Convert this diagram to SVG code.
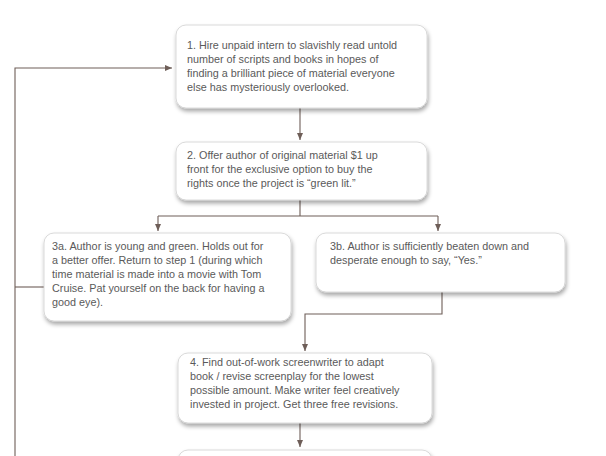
<svg xmlns="http://www.w3.org/2000/svg" width="606" height="456" viewBox="0 0 606 456">
<style>
.box{fill:#fff;stroke:#d0d0d0;stroke-width:0.8;filter:url(#sh)}
.t{font-family:"Liberation Sans",Arial,sans-serif;font-size:10.8px;fill:#5a5a5a}
.c{fill:none;stroke:#6e5e58;stroke-width:1.1}
</style>
<defs>
<filter id="sh" x="-10%" y="-10%" width="125%" height="135%"><feDropShadow dx="1" dy="3" stdDeviation="2" flood-color="#000" flood-opacity="0.35"/></filter>
<marker id="a" markerWidth="8" markerHeight="8" refX="7" refY="4" orient="auto" markerUnits="userSpaceOnUse"><path d="M0,1 L7,4 L0,7 z" fill="#6e5e58"/></marker>
</defs>
<g id="connectors">
<path class="c" d="M300,108 V140" marker-end="url(#a)"/>
<path class="c" d="M300,200 V216 M158,216 H438"/>
<path class="c" d="M158,216 V231" marker-end="url(#a)"/>
<path class="c" d="M438,216 V231" marker-end="url(#a)"/>
<path class="c" d="M442,292 V314 H305 V351" marker-end="url(#a)"/>
<path class="c" d="M300,423 V447" marker-end="url(#a)"/>
<path class="c" d="M44,287 H15"/>
<path class="c" d="M15,456 V68 H172" marker-end="url(#a)"/>
</g>
<g id="n1"><rect class="box" x="176" y="25" width="251" height="83" rx="10"/>
<text class="t" x="187"><tspan x="187" y="49">1. Hire unpaid intern to slavishly read untold</tspan><tspan x="187" y="63">number of scripts and books in hopes of</tspan><tspan x="187" y="77">finding a brilliant piece of material everyone</tspan><tspan x="187" y="91">else has mysteriously overlooked.</tspan></text></g>
<g id="n2"><rect class="box" x="176" y="142" width="251" height="58" rx="10"/>
<text class="t"><tspan x="187" y="159">2. Offer author of original material $1 up</tspan><tspan x="187" y="173">front for the exclusive option to buy the</tspan><tspan x="187" y="187">rights once the project is “green lit.”</tspan></text></g>
<g id="n3a"><rect class="box" x="44" y="233" width="247" height="88" rx="10"/>
<text class="t"><tspan x="52" y="250">3a. Author is young and green. Holds out for</tspan><tspan x="52" y="264">a better offer. Return to step 1 (during which</tspan><tspan x="52" y="278">time material is made into a movie with Tom</tspan><tspan x="52" y="292">Cruise. Pat yourself on the back for having a</tspan><tspan x="52" y="306">good eye).</tspan></text></g>
<g id="n3b"><rect class="box" x="316" y="233" width="249" height="59" rx="10"/>
<text class="t"><tspan x="330" y="250">3b. Author is sufficiently beaten down and</tspan><tspan x="330" y="264">desperate enough to say, “Yes.”</tspan></text></g>
<g id="n4"><rect class="box" x="178" y="353" width="254" height="70" rx="10"/>
<text class="t"><tspan x="190" y="366">4. Find out-of-work screenwriter to adapt</tspan><tspan x="190" y="380">book / revise screenplay for the lowest</tspan><tspan x="190" y="394">possible amount. Make writer feel creatively</tspan><tspan x="190" y="408">invested in project. Get three free revisions.</tspan></text></g>
<g id="n5"><rect class="box" x="178" y="450" width="254" height="40" rx="10"/></g>
</svg>
